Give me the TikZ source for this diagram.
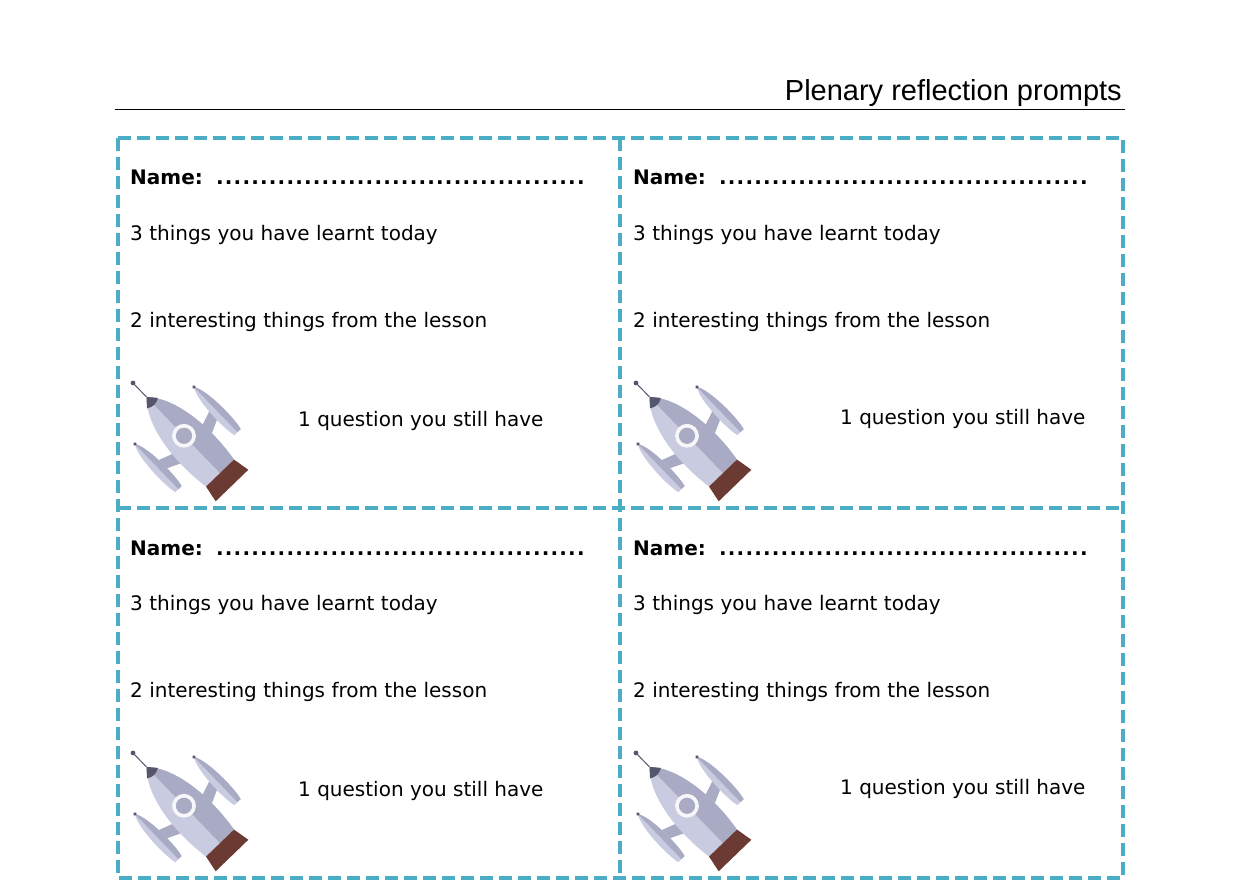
\documentclass[tikz,border=0pt]{standalone}
\usepackage{fontspec}
\setmainfont{DejaVu Sans}
\newfontfamily\titlefont{Liberation Sans}
\definecolor{teal}{HTML}{4BACC6}
\definecolor{rbody}{HTML}{C9CBE0}
\definecolor{rdark}{HTML}{A9ABC4}
\definecolor{rbrown}{HTML}{6B3A33}
\definecolor{rnose}{HTML}{55566E}
\begin{document}
\begin{tikzpicture}[x=1pt,y=-1pt,
  txt/.style={anchor=base west,inner sep=0pt,font=\fontsize{20}{22}\selectfont},
  card/.style={draw=teal,line width=3.5pt,dash pattern=on 13pt off 6pt}]
\useasboundingbox (0,0) rectangle (1240,880);
\node[anchor=base east,inner sep=0pt,font=\titlefont\fontsize{29}{32}\selectfont] (title) at (1122,101) {Plenary reflection prompts};
\draw[line width=1pt] (115,110) -- (1125,110);
\draw[card] (118,138) rectangle (1123,878);
\draw[card] (620,138) -- (620,878);
\draw[card] (118,508) -- (1123,508);
\foreach \cx/\qx/\qy [count=\i] in {0/298/426, 503/840/424}{
 \foreach \cy [count=\j] in {0,370}{
  \begin{scope}[shift={(\cx,\cy)}]
  \node[txt] (n\i\j) at (130,185) {\textbf{Name:} \makebox[378pt]{\bfseries\dotfill}};
  \node[txt] (a\i\j) at (130,240) {3 things you have learnt today};
  \node[txt] (b\i\j) at (130,327) {2 interesting things from the lesson};
  \node[txt] (c\i\j) at (\qx-\cx,\qy) {1 question you still have};
  \begin{scope}[shift={(190,442)},rotate=44,scale=1.08]
   \draw[rnose,line width=1pt] (0,-58) -- (0,-76);
   \fill[rnose] (0,-76) circle (2.2);
   \fill[rdark] (10,0) -- (38,-10) -- (38,0) -- (12,12) -- cycle;
   \fill[rdark] (-10,0) -- (-38,-10) -- (-38,0) -- (-12,12) -- cycle;
   \fill[rbody] (38,-34) .. controls (45,-24) and (45,14) .. (42,24) -- (34,24) .. controls (31,14) and (31,-24) .. (38,-34);
   \fill[rdark] (38,-34) .. controls (45,-24) and (45,14) .. (42,24) -- (38,24) -- cycle;
   \fill[rbody] (-38,-34) .. controls (-45,-24) and (-45,14) .. (-42,24) -- (-34,24) .. controls (-31,14) and (-31,-24) .. (-38,-34);
   \fill[rdark] (-38,-34) .. controls (-31,-24) and (-31,14) .. (-34,24) -- (-38,24) -- cycle;
   \fill[rnose] (38,-34) circle (1.8) (-38,-34) circle (1.8);
   \fill[rbody] (0,-58) .. controls (18,-40) and (24,0) .. (18,40) -- (-18,40) .. controls (-24,0) and (-18,-40) .. (0,-58);
   \fill[rdark] (0,-58) .. controls (18,-40) and (24,0) .. (18,40) -- (0,40) -- cycle;
   \fill[rnose] (0,-58) -- (7,-50) .. controls (2,-47) and (-2,-47) .. (-7,-50) -- cycle;
   \fill[white!85!rbody] (0,-8) circle (11);
   \fill[rdark] (0,-8) circle (7.5);
   \fill[rbrown] (-18,40) -- (18,40) -- (21,56) -- (-21,56) -- cycle;
  \end{scope}
  \end{scope}
 }}
\end{tikzpicture}
\end{document}
